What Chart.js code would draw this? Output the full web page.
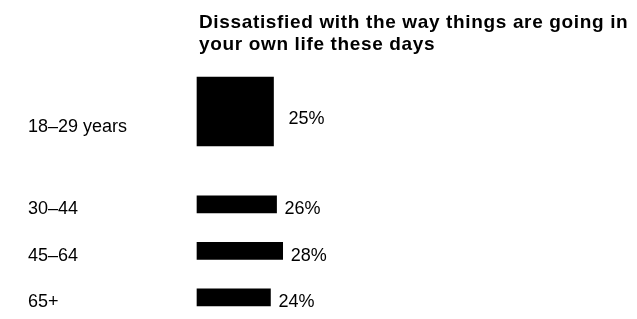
<!DOCTYPE html>
<html>
<head>
<meta charset="utf-8">
<script src="https://cdn.jsdelivr.net/npm/chart.js@4/dist/chart.umd.min.js"></script>
<style>
  html, body { margin: 0; padding: 0; background: #fff; }
  #wrap { width: 637px; height: 319px; position: relative; }
</style>
</head>
<body>
<div id="wrap"><canvas id="c"></canvas></div>
<script>
// ---- data ----
const titleLines = ['Dissatisfied with the way things are going in', 'your own life these days'];
const categories = ['18–29 years', '30–44', '45–64', '65+'];
const values = [25, 26, 28, 24];
const valueSuffix = '%';

// first group shown as a tall bar, separated by a blank slot
const labels = [['', categories[0]], '', categories[1], categories[2], categories[3]];
const firstData = [values[0], null, null, null, null];
const restData = [null, null, values[1], values[2], values[3]];

const FONT = '"Liberation Sans", Arial, Helvetica, sans-serif';

const titlePlugin = {
  id: 'topTitle',
  afterDraw(chart) {
    const ctx = chart.ctx;
    ctx.save();
    ctx.fillStyle = '#000';
    ctx.font = 'bold 19px ' + FONT;
    if ('letterSpacing' in ctx) ctx.letterSpacing = '0.65px';
    ctx.textBaseline = 'alphabetic';
    ctx.textAlign = 'left';
    const x = chart.chartArea.left + 2;
    ctx.fillText(titleLines[0], x, 28);
    ctx.fillText(titleLines[1], x, 50);
    ctx.restore();
  }
};

const valueLabels = {
  id: 'valueLabels',
  afterDatasetsDraw(chart) {
    const ctx = chart.ctx;
    ctx.save();
    ctx.fillStyle = '#000';
    ctx.font = '18px ' + FONT;
    ctx.textBaseline = 'middle';
    ctx.textAlign = 'left';
    chart.data.datasets.forEach((ds, di) => {
      const meta = chart.getDatasetMeta(di);
      meta.data.forEach((bar, i) => {
        const v = ds.data[i];
        if (v == null) return;
        ctx.fillText(v + valueSuffix, bar.x + ds.labelGap, bar.y + ds.labelDy);
      });
    });
    ctx.restore();
  }
};

new Chart(document.getElementById('c'), {
  type: 'bar',
  data: {
    labels: labels,
    datasets: [
      { data: firstData, backgroundColor: '#000', barThickness: 69, grouped: false, clip: false, labelGap: 15, labelDy: 8 },
      { data: restData, backgroundColor: '#000', barThickness: 17, grouped: false, clip: false, labelGap: 8, labelDy: 5 }
    ]
  },
  options: {
    indexAxis: 'y',
    responsive: true,
    maintainAspectRatio: false,
    animation: false,
    layout: { padding: { left: 28, right: 134, top: 111.5, bottom: 18 } },
    plugins: { legend: { display: false }, tooltip: { enabled: false }, title: { display: false } },
    scales: {
      x: { display: false, min: 0, max: 100 },
      y: {
        offset: false,
        grid: { display: false },
        border: { display: false },
        afterFit(scale) { scale.width = 169; },
        ticks: {
          crossAlign: 'far',
          padding: 0,
          labelOffset: 5,
          color: '#000',
          font: { family: FONT, size: 18 }
        }
      }
    }
  },
  plugins: [titlePlugin, valueLabels]
});
</script>
</body>
</html>
